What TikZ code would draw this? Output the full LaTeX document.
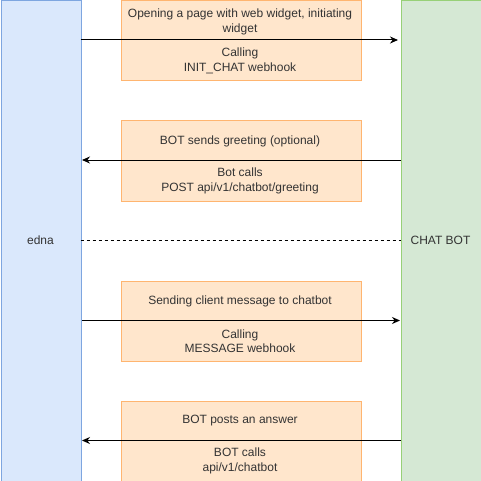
\documentclass[tikz,border=0pt]{standalone}
\usepackage{fontspec}
\setmainfont{Liberation Sans}
\usetikzlibrary{arrows.meta}
\definecolor{bluefill}{HTML}{DAE8FC}
\definecolor{bluestroke}{HTML}{7EA6E0}
\definecolor{greenfill}{HTML}{D5E8D4}
\definecolor{greenstroke}{HTML}{97D077}
\definecolor{orfill}{HTML}{FFE6CC}
\definecolor{orstroke}{HTML}{FFB570}
\definecolor{txt}{HTML}{333333}
\begin{document}
\begin{tikzpicture}[x=1pt,y=-1pt,
  lane/.style={draw, line width=1pt, minimum width=80pt, minimum height=480pt, inner sep=0pt, anchor=north west},
  obox/.style={draw=orstroke, fill=orfill, line width=1pt, minimum width=240pt, minimum height=80pt, inner sep=0pt, anchor=north west},
  lbl/.style={font=\fontsize{12pt}{14.5pt}\selectfont, text=txt, align=center, inner sep=0pt},
  msg/.style={-{Stealth[length=8pt,width=7pt]}, line width=1pt, black}]
\useasboundingbox (0,0) rectangle (481,481);
\node[lane, draw=bluestroke, fill=bluefill] (edna) at (0.5,0.5) {};
\node[lane, draw=greenstroke, fill=greenfill] (bot) at (400.5,0.5) {};
\node[obox] (b1) at (120.5,0.5) {};
\node[obox] (b2) at (120.5,120.5) {};
\node[obox] (b3) at (120.5,280.5) {};
\node[obox] (b4) at (120.5,400.5) {};
\node[lbl] (t1a) at (240,22) {Opening a page with web widget, initiating\\widget};
\node[lbl] (t1b) at (240,61) {Calling\\INIT\_CHAT webhook};
\node[lbl] (t2a) at (240,141) {BOT sends greeting (optional)};
\node[lbl] (t2b) at (240,181) {Bot calls\\POST api/v1/chatbot/greeting};
\node[lbl] (t3a) at (240,301) {Sending client message to chatbot};
\node[lbl] (t3b) at (240,341) {Calling\\MESSAGE webhook};
\node[lbl] (t4a) at (240,421) {BOT posts an answer};
\node[lbl] (t4b) at (240,461) {BOT calls\\api/v1/chatbot};
\node[lbl] (en) at (40.5,240.5) {edna};
\node[lbl] (cb) at (440.5,240.5) {CHAT BOT};
\coordinate (l1) at (80.5,40); \coordinate (r1) at (398,40);
\coordinate (l2) at (82,160); \coordinate (r2) at (400.5,160);
\coordinate (l3) at (82,320.5); \coordinate (r3) at (400,320.5);
\coordinate (l4) at (82,440.5); \coordinate (r4) at (400.5,440.5);
\coordinate (ld) at (80.5,240.5); \coordinate (rd) at (400.5,240.5);
\draw[msg] (l1) -- (r1);
\draw[msg] (r2) -- (l2);
\draw[msg] (l3) -- (r3);
\draw[msg] (r4) -- (l4);
\draw[line width=1pt, dash pattern=on 3pt off 3pt] (ld) -- (rd);
\end{tikzpicture}
\end{document}
